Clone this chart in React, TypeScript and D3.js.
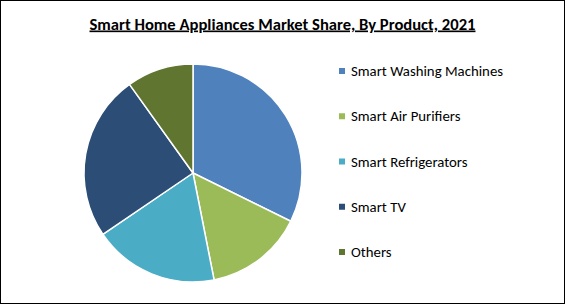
import React, { useEffect } from "react";
import * as d3 from "d3";

const categories = ["Smart Washing Machines", "Smart Air Purifiers", "Smart Refrigerators", "Smart TV", "Others"];
const shares = [32.3, 14.6, 18.6, 24.6, 9.9];
const colors = ["#4F81BD", "#9BBB59", "#4BACC6", "#2C4D75", "#5F7530"];
const title = "Smart Home Appliances Market Share, By Product, 2021";

const W = 565;
const H = 304;

export default function App() {
  useEffect(() => {
    document.body.style.margin = "0";
  }, []);
  const cx = 193;
  const cy = 173;
  const r = 109;
  const pie = d3.pie<number>().sort(null).value((d) => d);
  const arcs = pie(shares);
  const arc = d3.arc<d3.PieArcDatum<number>>().innerRadius(0).outerRadius(r);
  const font = "Carlito, Calibri, Lato, 'Open Sans', sans-serif";
  const legendY = d3.scalePoint<string>().domain(categories).range([71, 252]);
  return (
    <svg width={W} height={H} style={{ position: "absolute", left: 0, top: 0, display: "block" }}>
      <rect x={0} y={0} width={W} height={H} fill="#fff" />
      <rect x={0.5} y={0.5} width={W - 1} height={H - 1} fill="none" stroke="#000" strokeWidth={1} />
      <text x={282.5} y={29.5} textAnchor="middle" fontFamily={font} fontWeight="bold" fontSize={16.6} textDecoration="underline" fill="#000">
        {title}
      </text>
      <g transform={`translate(${cx},${cy})`}>
        {arcs.map((a, i) => (
          <path key={i} d={arc(a) || ""} fill={colors[i]} stroke="#fff" strokeWidth={1.5} strokeLinejoin="round" />
        ))}
      </g>
      {categories.map((c, i) => (
        <g key={c} transform={`translate(339,${legendY(c)})`}>
          <rect x={0} y={-3} width={6} height={6} fill={colors[i]} />
          <text x={12} y={5} fontFamily={font} fontSize={14.8} fill="#000">
            {c}
          </text>
        </g>
      ))}
    </svg>
  );
}
